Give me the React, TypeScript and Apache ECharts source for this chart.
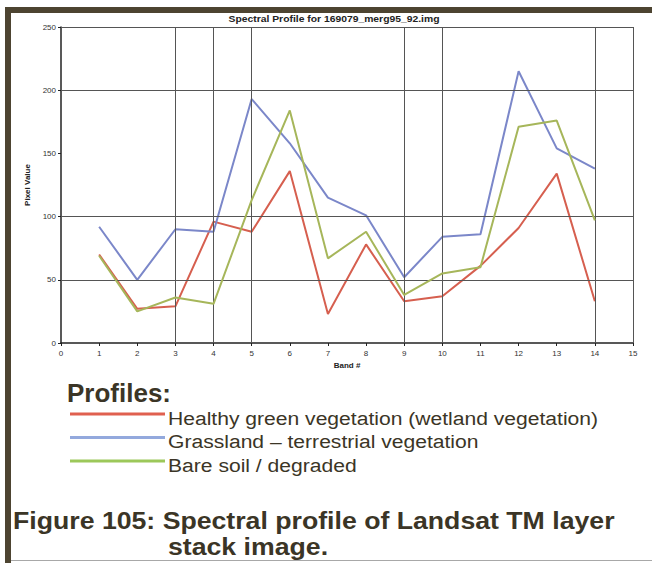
import React, { useEffect, useRef } from "react";
import * as echarts from "echarts";

const bands = [1, 2, 3, 4, 5, 6, 7, 8, 9, 10, 11, 12, 13, 14];
const healthyValues = [70, 27, 29, 96, 88, 136, 23, 78, 33, 37, 61, 91, 134, 33];
const grasslandValues = [92, 50, 90, 88, 193, 158, 115, 101, 52, 84, 86, 215, 154, 138];
const bareSoilValues = [69, 25, 36, 31, 113, 184, 67, 88, 38, 55, 60, 171, 176, 97];
const verticalGridBands = [3, 4, 5, 9, 10, 14, 15];
const horizontalGridValues = [50, 100, 200, 250];

const seriesNames = [
  "Healthy green vegetation (wetland vegetation)",
  "Grassland \u2013 terrestrial vegetation",
  "Bare soil / degraded",
];

const lineColors = ["#d65f4f", "#7b87c9", "#a6b65a"];
const legendColors = ["#e0604f", "#93a9dd", "#9cc85a"];

const textColor = "#3b3526";
const FONT = "'Liberation Sans', Arial, sans-serif";

export default function App() {
  const ref = useRef<HTMLDivElement>(null);

  useEffect(() => {
    if (!ref.current) return;
    const chart = echarts.init(ref.current, undefined, { renderer: "svg" });

    const toPairs = (vals: number[]) => vals.map((v, i) => [bands[i], v]);

    const gridMarks = [
      ...verticalGridBands.map((b) => ({ xAxis: b })),
      ...horizontalGridValues.map((v) => ({ yAxis: v })),
    ];

    const legendGraphics: any[] = [];
    const legendY = [414, 437.5, 461];
    seriesNames.forEach((name, i) => {
      legendGraphics.push({
        type: "line",
        shape: { x1: 70, y1: legendY[i], x2: 165, y2: legendY[i] },
        style: { stroke: legendColors[i], lineWidth: 3 },
      });
      legendGraphics.push({
        type: "text",
        x: 168,
        y: legendY[i] + 4,
        scaleX: 1.11,
        style: {
          text: name,
          font: `19px ${FONT}`,
          fill: textColor,
          textVerticalAlign: "middle",
        },
      });
    });

    chart.setOption({
      animation: false,
      backgroundColor: "#ffffff",
      grid: { left: 61, top: 27, right: 19, bottom: 220, containLabel: false },
      xAxis: {
        type: "value",
        min: 0,
        max: 15,
        interval: 1,
        name: "Band #",
        nameLocation: "middle",
        nameGap: 18,
        nameTextStyle: { fontSize: 8, fontWeight: "bold", color: "#222", fontFamily: FONT },
        axisLine: { show: true, lineStyle: { color: "#222", width: 1.5 } },
        axisTick: { show: true, length: 3, lineStyle: { color: "#222" } },
        axisLabel: { fontSize: 8, color: "#333", margin: 6, fontFamily: FONT },
        splitLine: { show: false },
      },
      yAxis: {
        type: "value",
        min: 0,
        max: 250,
        interval: 50,
        name: "Pixel Value",
        nameLocation: "middle",
        nameGap: 22,
        nameTextStyle: { fontSize: 8, fontWeight: "bold", color: "#222", fontFamily: FONT },
        axisLine: { show: true, lineStyle: { color: "#222", width: 1.5 } },
        axisTick: { show: true, length: 3, lineStyle: { color: "#222" } },
        axisLabel: { fontSize: 8, color: "#333", margin: 5, fontFamily: FONT },
        splitLine: { show: false },
      },
      series: [
        {
          type: "line",
          data: [],
          silent: true,
          markLine: {
            silent: true,
            symbol: "none",
            label: { show: false },
            lineStyle: { color: "#555", width: 1, type: "solid" },
            data: gridMarks,
          },
        },
        ...[healthyValues, grasslandValues, bareSoilValues].map((vals, i) => ({
          type: "line",
          name: seriesNames[i],
          data: toPairs(vals),
          showSymbol: false,
          symbol: "none",
          lineStyle: { color: lineColors[i], width: 2 },
          itemStyle: { color: lineColors[i] },
          z: 3 + i,
        })),
      ],
      graphic: [
        { type: "rect", shape: { x: 5, y: 7, width: 647, height: 6 }, style: { fill: "#4d4431" } },
        { type: "rect", shape: { x: 5, y: 7, width: 6, height: 556 }, style: { fill: "#4d4431" } },
        {
          type: "line",
          shape: { x1: 11, y1: 560.5, x2: 652, y2: 560.5 },
          style: { stroke: "#a8a8a8", lineWidth: 1 },
        },
        {
          type: "text",
          x: 334,
          y: 19,
          scaleX: 1.15,
          style: {
            text: "Spectral Profile for 169079_merg95_92.img",
            font: `bold 9px ${FONT}`,
            fill: "#222",
            textAlign: "center",
            textVerticalAlign: "middle",
          },
        },
        {
          type: "text",
          x: 67,
          y: 393,
          style: {
            text: "Profiles:",
            font: `bold 26px ${FONT}`,
            fill: textColor,
            textVerticalAlign: "middle",
          },
        },
        ...legendGraphics,
        {
          type: "text",
          x: 13,
          y: 521,
          scaleX: 1.16,
          style: {
            text: "Figure 105: Spectral profile of Landsat TM layer",
            font: `bold 23px ${FONT}`,
            fill: textColor,
            textVerticalAlign: "middle",
          },
        },
        {
          type: "text",
          x: 168,
          y: 547,
          scaleX: 1.16,
          style: {
            text: "stack image.",
            font: `bold 23px ${FONT}`,
            fill: textColor,
            textVerticalAlign: "middle",
          },
        },
      ],
    });

    return () => chart.dispose();
  }, []);

  return (
    <div
      ref={ref}
      style={{ position: "absolute", left: 0, top: 0, width: 652, height: 563 }}
    />
  );
}
